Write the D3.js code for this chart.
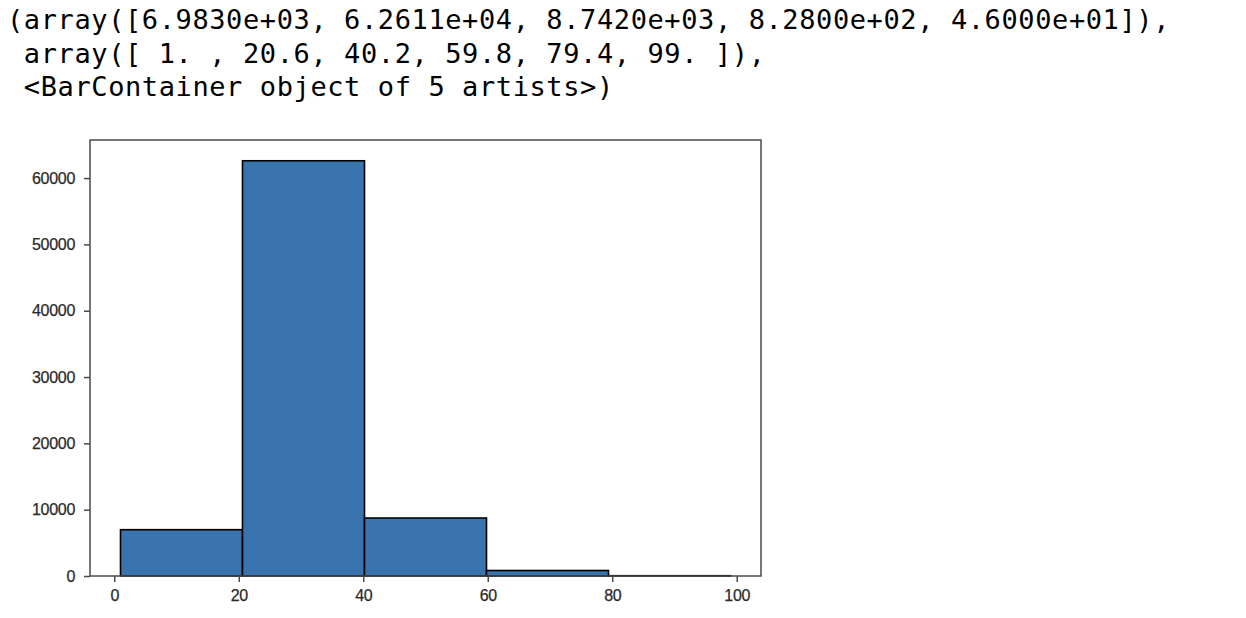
<!DOCTYPE html>
<html>
<head>
<meta charset="utf-8">
<script src="https://cdn.jsdelivr.net/npm/d3@7"></script>
<style>
  html, body { margin: 0; padding: 0; background: #fff; }
  svg { display: block; }
</style>
</head>
<body>
<svg id="chart" width="1246" height="618"></svg>
<script>
// ---- data ----
const counts = [6983, 62611, 8742, 828, 46];
const binEdges = [1, 20.6, 40.2, 59.8, 79.4, 99];
const outputLines = [
  "(array([6.9830e+03, 6.2611e+04, 8.7420e+03, 8.2800e+02, 4.6000e+01]),",
  " array([ 1. , 20.6, 40.2, 59.8, 79.4, 99. ]),",
  " <BarContainer object of 5 artists>)"
];
const xTicks = [0, 20, 40, 60, 80, 100];
const yTicks = [0, 10000, 20000, 30000, 40000, 50000, 60000];

// ---- layout ----
const svg = d3.select("#chart");
const plot = { left: 90, right: 761, top: 140, bottom: 576 };

// text output
svg.append("g")
  .selectAll("text")
  .data(outputLines)
  .join("text")
  .attr("x", 7)
  .attr("y", (d, i) => 29 + i * 33.5)
  .attr("font-family", "'DejaVu Sans Mono', monospace")
  .attr("font-size", 27)
  .attr("letter-spacing", 0.6)
  .attr("fill", "#000")
  .attr("xml:space", "preserve")
  .style("white-space", "pre")
  .text(d => d);

const xmin = binEdges[0], xmax = binEdges[binEdges.length - 1];
const xpad = (xmax - xmin) * 0.05;
const x = d3.scaleLinear().domain([xmin - xpad, xmax + xpad]).range([plot.left, plot.right]);
const y = d3.scaleLinear().domain([0, d3.max(counts) * 1.05]).range([plot.bottom, plot.top]);

const bins = counts.map((c, i) => ({ x0: binEdges[i], x1: binEdges[i + 1], c }));

svg.append("g")
  .selectAll("rect")
  .data(bins)
  .join("rect")
  .attr("x", d => x(d.x0))
  .attr("y", d => y(d.c))
  .attr("width", d => x(d.x1) - x(d.x0))
  .attr("height", d => y(0) - y(d.c))
  .attr("fill", "#3a74ae")
  .attr("stroke", "#000")
  .attr("stroke-width", 1.6);

// frame
svg.append("rect")
  .attr("x", plot.left)
  .attr("y", plot.top)
  .attr("width", plot.right - plot.left)
  .attr("height", plot.bottom - plot.top)
  .attr("fill", "none")
  .attr("stroke", "#4a4a4a")
  .attr("stroke-width", 1.5);

const tickFont = "'Liberation Sans', Arial, sans-serif";

const xAxis = svg.append("g")
  .attr("transform", `translate(0,${plot.bottom})`)
  .call(d3.axisBottom(x).tickValues(xTicks).tickSize(6).tickPadding(8).tickFormat(d3.format("d")));
const yAxis = svg.append("g")
  .attr("transform", `translate(${plot.left},0)`)
  .call(d3.axisLeft(y).tickValues(yTicks).tickSize(6).tickPadding(9).tickFormat(d3.format("d")));

[xAxis, yAxis].forEach(a => {
  a.select(".domain").remove();
  a.selectAll(".tick line").attr("stroke", "#4a4a4a").attr("stroke-width", 1.5);
  a.selectAll(".tick text")
    .attr("font-family", tickFont)
    .attr("font-size", 16)
    .attr("fill", "#2a2a2a")
    .attr("stroke", "#2a2a2a")
    .attr("stroke-width", 0.25)
    .attr("letter-spacing", -0.3);
});
</script>
</body>
</html>
